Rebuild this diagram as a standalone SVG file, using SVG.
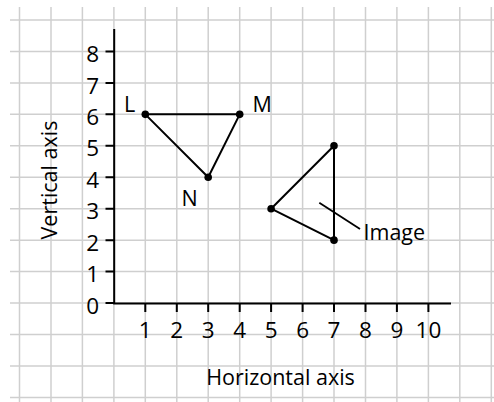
<svg xmlns="http://www.w3.org/2000/svg" width="494" height="402" viewBox="0 0 494 402">
<style>
.grid line{stroke:#cfcfcf;stroke-width:1.5}
.ax{stroke:#000;stroke-width:2;fill:none}
.tri{stroke:#000;stroke-width:2;fill:none;stroke-linejoin:round}
.dot{fill:#000}
text{font-family:"Open Sans","Liberation Sans",sans-serif;font-size:21.5px;fill:#000}
.yl{text-anchor:end;font-size:22.5px}
.xl{text-anchor:middle;font-size:22.5px}
.lab{text-anchor:middle}
</style>
<rect width="494" height="402" fill="#fff"/>
<g class="grid" id="grid">
<line x1="19.5" y1="7" x2="19.5" y2="402"/>
<line x1="51" y1="7" x2="51" y2="402"/>
<line x1="82.4" y1="7" x2="82.4" y2="402"/>
<line x1="113.9" y1="7" x2="113.9" y2="402"/>
<line x1="145.3" y1="7" x2="145.3" y2="402"/>
<line x1="176.8" y1="7" x2="176.8" y2="402"/>
<line x1="208.2" y1="7" x2="208.2" y2="402"/>
<line x1="239.7" y1="7" x2="239.7" y2="402"/>
<line x1="271.1" y1="7" x2="271.1" y2="402"/>
<line x1="302.6" y1="7" x2="302.6" y2="402"/>
<line x1="334" y1="7" x2="334" y2="402"/>
<line x1="365.5" y1="7" x2="365.5" y2="402"/>
<line x1="396.9" y1="7" x2="396.9" y2="402"/>
<line x1="428.4" y1="7" x2="428.4" y2="402"/>
<line x1="459.8" y1="7" x2="459.8" y2="402"/>
<line x1="491.3" y1="7" x2="491.3" y2="402"/>
<line x1="10" y1="20" x2="494" y2="20"/>
<line x1="10" y1="51.45" x2="494" y2="51.45"/>
<line x1="10" y1="82.9" x2="494" y2="82.9"/>
<line x1="10" y1="114.35" x2="494" y2="114.35"/>
<line x1="10" y1="145.8" x2="494" y2="145.8"/>
<line x1="10" y1="177.25" x2="494" y2="177.25"/>
<line x1="10" y1="208.7" x2="494" y2="208.7"/>
<line x1="10" y1="240.15" x2="494" y2="240.15"/>
<line x1="10" y1="271.6" x2="494" y2="271.6"/>
<line x1="10" y1="303.05" x2="494" y2="303.05"/>
<line x1="10" y1="334.5" x2="494" y2="334.5"/>
<line x1="10" y1="366" x2="494" y2="366"/>
<line x1="10" y1="397.4" x2="494" y2="397.4"/>
</g>
<g id="axes">
<path class="ax" d="M114.2 29 V303.5 H451"/>
<path class="ax" d="M105.5 51.45H114 M105.5 82.9H114 M105.5 114.35H114 M105.5 145.8H114 M105.5 177.25H114 M105.5 208.7H114 M105.5 240.15H114 M105.5 271.6H114 M105.5 303.05H114"/>
<path class="ax" d="M145.3 303V312 M176.8 303V312 M208.2 303V312 M239.7 303V312 M271.1 303V312 M302.6 303V312 M334 303V312 M365.5 303V312 M396.9 303V312 M428.4 303V312"/>
<text class="yl" x="99" y="62">8</text>
<text class="yl" x="99" y="93.5">7</text>
<text class="yl" x="99" y="124.8">6</text>
<text class="yl" x="99" y="156.2">5</text>
<text class="yl" x="99" y="187.7">4</text>
<text class="yl" x="99" y="219.1">3</text>
<text class="yl" x="99" y="250.6">2</text>
<text class="yl" x="99" y="282">1</text>
<text class="yl" x="99" y="314">0</text>
<text class="xl" x="145.3" y="337.5">1</text>
<text class="xl" x="176.8" y="337.5">2</text>
<text class="xl" x="208.2" y="337.5">3</text>
<text class="xl" x="239.7" y="337.5">4</text>
<text class="xl" x="271.1" y="337.5">5</text>
<text class="xl" x="302.6" y="337.5">6</text>
<text class="xl" x="334" y="337.5">7</text>
<text class="xl" x="365.5" y="337.5">8</text>
<text class="xl" x="396.9" y="337.5">9</text>
<text class="xl" x="428.4" y="337.5">10</text>
<text class="lab" x="280.5" y="384.5">Horizontal axis</text>
<text class="lab" transform="translate(56.5 180) rotate(-90)">Vertical axis</text>
</g>
<g id="original">
<polygon class="tri" points="145.3,114.35 239.7,114.35 208.2,177.25"/>
<circle class="dot" cx="145.3" cy="114.35" r="3.8"/>
<circle class="dot" cx="239.7" cy="114.35" r="3.8"/>
<circle class="dot" cx="208.2" cy="177.25" r="3.8"/>
<text x="124" y="111.7">L</text>
<text x="252.5" y="111.7">M</text>
<text x="181.5" y="205.5">N</text>
</g>
<g id="image">
<polygon class="tri" points="271.1,208.7 334,145.8 334,240.15"/>
<circle class="dot" cx="271.1" cy="208.7" r="3.8"/>
<circle class="dot" cx="334" cy="145.8" r="3.8"/>
<circle class="dot" cx="334" cy="240.15" r="3.8"/>
<line x1="319.3" y1="202.7" x2="360" y2="229" stroke="#000" stroke-width="1.8"/>
<text x="363.5" y="240.3">Image</text>
</g>
</svg>
